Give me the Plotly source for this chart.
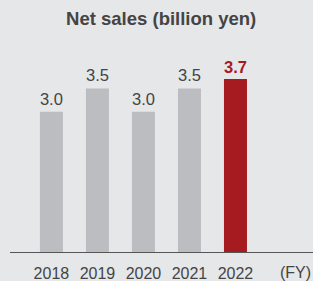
import plotly.graph_objects as go

years = ["2018", "2019", "2020", "2021", "2022"]
net_sales = [3.0, 3.5, 3.0, 3.5, 3.7]
title_text = "Net sales (billion yen)"
unit_label = "(FY)"

GRAY = "#bcbdc0"
RED = "#a61b1f"
TXT = "#444444"
BG = "#e6e7e9"
FONT = "Arial, Helvetica, sans-serif"

colors = [GRAY] * (len(years) - 1) + [RED]
labels = [f"{v:.1f}" for v in net_sales]
labels[-1] = f"<b>{labels[-1]}</b>"
label_colors = [TXT] * (len(years) - 1) + [RED]
label_sizes = [17] * (len(years) - 1) + [21]

fig = go.Figure(go.Bar(
    x=list(range(len(years))), y=net_sales, width=0.5,
    marker=dict(color=colors, line=dict(width=0)),
    text=labels, textposition="outside", cliponaxis=False,
    textfont=dict(color=label_colors, size=label_sizes, family=FONT),
))

fig.update_layout(
    width=313, height=281,
    margin=dict(l=10, r=0, t=65, b=29),
    paper_bgcolor=BG, plot_bgcolor=BG,
    showlegend=False,
    font=dict(family=FONT, color=TXT),
    title=dict(text=f"<b>{title_text}</b>", x=0.515, xanchor="center", y=0.935, yanchor="middle",
               font=dict(size=18.5, color=TXT)),
    xaxis=dict(range=[-0.9, 5.685], tickvals=list(range(len(years))), ticktext=years,
               showgrid=False, zeroline=False, showline=True, linecolor="#555555", linewidth=1,
               ticks="", ticklabelstandoff=7, tickfont=dict(size=16, color=TXT)),
    yaxis=dict(range=[0, 4.0], visible=False),
    annotations=[dict(text=unit_label, xref="paper", yref="paper", x=1.0, y=0, xanchor="right",
                      yanchor="top", yshift=-10, showarrow=False, font=dict(size=16, color=TXT))],
)

fig.write_html("out.html", config={"displayModeBar": False},
               post_script="document.body.style.margin='0';document.body.style.overflow='hidden';")
